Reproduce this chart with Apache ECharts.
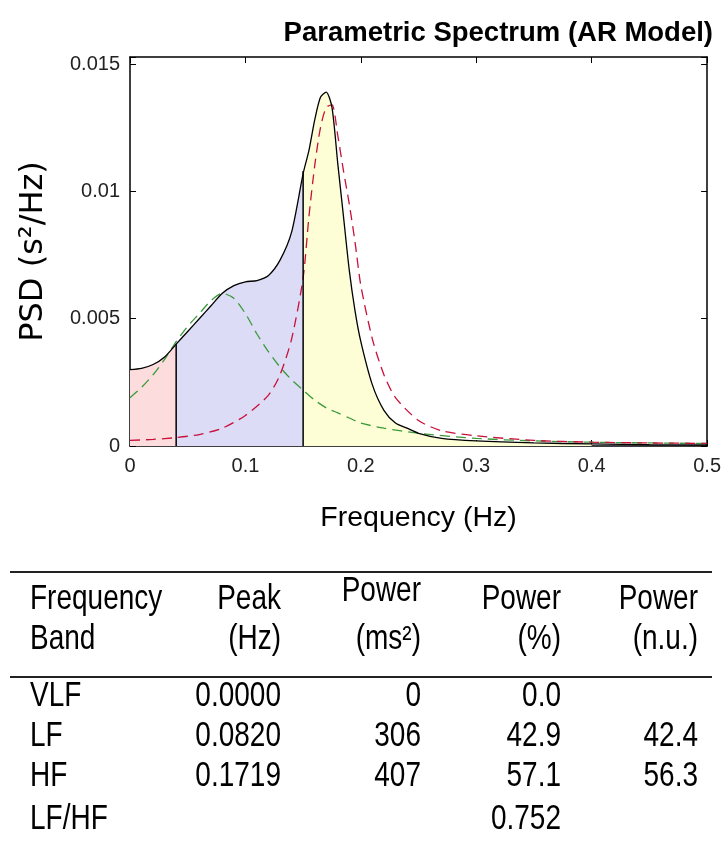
<!DOCTYPE html>
<html>
<head>
<meta charset="utf-8">
<script src="https://cdn.jsdelivr.net/npm/echarts@6/dist/echarts.min.js"></script>
<style>
html,body{margin:0;padding:0;background:#fff;}
#main{width:724px;height:845px;}
</style>
</head>
<body>
<div id="main"></div>
<script>
// ---- data ----
const titleText = 'Parametric Spectrum (AR Model)';
const xTicks = [0, 0.1, 0.2, 0.3, 0.4, 0.5];
const yTicks = [0, 0.005, 0.01, 0.015];

const freqTotal = [0, 0.01, 0.02, 0.03, 0.04, 0.05, 0.06, 0.07, 0.08, 0.09, 0.10, 0.11, 0.12, 0.13, 0.14, 0.15,
  0.155, 0.16, 0.165, 0.17, 0.175, 0.18, 0.185, 0.19, 0.195, 0.20, 0.21, 0.22, 0.23, 0.24, 0.25, 0.27, 0.30, 0.35, 0.40, 0.45, 0.50];
const psdTotal = [0.0030, 0.00305, 0.0032, 0.0035, 0.0040, 0.0045, 0.0050, 0.0055, 0.0060, 0.0063, 0.00645, 0.0065, 0.0067, 0.0073, 0.0084, 0.0107,
  0.0116, 0.0128, 0.0137, 0.0139, 0.0133, 0.0111, 0.0090, 0.0069, 0.0053, 0.0041, 0.0024, 0.0014, 0.0009, 0.0007, 0.0005, 0.0003, 0.0002, 0.00012, 0.00008, 0.00005, 0.00004];

const freqLF = [0, 0.01, 0.02, 0.03, 0.04, 0.05, 0.06, 0.07, 0.08, 0.09, 0.10, 0.11, 0.12, 0.13, 0.14, 0.15, 0.16, 0.17, 0.18, 0.19, 0.20, 0.22, 0.25, 0.30, 0.35, 0.40, 0.45, 0.50];
const psdLF = [0.0019, 0.0023, 0.0028, 0.0034, 0.0041, 0.0047, 0.0052, 0.0057, 0.0060, 0.0058, 0.0052, 0.0044, 0.0037, 0.0031, 0.0026, 0.0022, 0.0018, 0.0015, 0.0013, 0.0011, 0.0009, 0.0007, 0.0005, 0.0003, 0.0002, 0.00015, 0.00012, 0.0001];

const freqHF = [0, 0.02, 0.04, 0.06, 0.08, 0.10, 0.12, 0.13, 0.14, 0.15, 0.155, 0.16, 0.165, 0.17, 0.175, 0.18, 0.185, 0.19, 0.195, 0.20, 0.21, 0.22, 0.23, 0.25, 0.27, 0.30, 0.35, 0.40, 0.45, 0.50];
const psdHF = [0.00022, 0.00026, 0.00033, 0.00045, 0.0007, 0.0012, 0.0020, 0.0028, 0.0042, 0.0066, 0.0090, 0.0110, 0.0125, 0.0133, 0.0134, 0.0122, 0.0108, 0.0095, 0.0080, 0.0063, 0.0042, 0.0028, 0.0019, 0.0010, 0.0006, 0.0004, 0.00022, 0.00015, 0.00012, 0.0001];

const bandNames = ['VLF', 'LF', 'HF'];
const bandEdges = [0, 0.04, 0.15, 0.4];
const hfEdgeTop = 0.0108;

const tableHead1 = ['Frequency', 'Peak', 'Power', 'Power', 'Power'];
const tableHead2 = ['Band', '(Hz)', '(ms²)', '(%)', '(n.u.)'];
const tableRows = [
  ['VLF', '0.0000', '0', '0.0', ''],
  ['LF', '0.0820', '306', '42.9', '42.4'],
  ['HF', '0.1719', '407', '57.1', '56.3'],
  ['LF/HF', '', '', '0.752', '']
];

// ---- build ----
const pairs = (fs, vs) => fs.map((f, i) => [f, vs[i]]);
const totalPairs = pairs(freqTotal, psdTotal);
const bandFill = ['#fcdcdc', '#dcdcf6', '#fefed6'];
const SMOOTH = 0.25;

const series = [];
bandNames.forEach((b, i) => {
  const lo = bandEdges[i], hi = bandEdges[i + 1];
  series.push({
    name: b, type: 'line', xAxisIndex: 0, yAxisIndex: 0,
    data: totalPairs.filter(p => p[0] >= lo - 1e-9 && p[0] <= hi + 1e-9),
    symbol: 'none', smooth: SMOOTH, silent: true,
    lineStyle: { width: 0, opacity: 0 },
    areaStyle: { color: bandFill[i], opacity: 1 },
    z: 1
  });
});
series.push({
  name: 'LF comp', type: 'line', data: pairs(freqLF, psdLF), symbol: 'none', smooth: SMOOTH,
  lineStyle: { color: '#3a9a3a', width: 1.3, type: [10, 6] }, z: 3
});
series.push({
  name: 'HF comp', type: 'line', data: pairs(freqHF, psdHF), symbol: 'none', smooth: SMOOTH,
  lineStyle: { color: '#c8103a', width: 1.3, type: [10, 6] }, z: 3
});
series.push({
  name: 'Total', type: 'line', data: totalPairs, symbol: 'none', smooth: SMOOTH,
  lineStyle: { color: '#000', width: 1.3 }, z: 4
});
const vIdx = freqTotal.indexOf(bandEdges[1]);
series.push({
  name: 'edge1', type: 'line', data: [[bandEdges[1], 0], [bandEdges[1], psdTotal[vIdx]]], symbol: 'none',
  lineStyle: { color: '#000', width: 1.5 }, z: 5
});
series.push({
  name: 'edge2', type: 'line', data: [[bandEdges[2], 0], [bandEdges[2], hfEdgeTop]], symbol: 'none',
  lineStyle: { color: '#000', width: 1.5 }, z: 5
});

const sansFont = '"Liberation Sans", Arial, sans-serif';
const tableFont = '28px "Liberation Sans", Arial, sans-serif';

const graphic = [];
graphic.push({ type: 'line', shape: { x1: 10, y1: 572, x2: 712, y2: 572 }, style: { stroke: '#222', lineWidth: 2 } });
graphic.push({ type: 'line', shape: { x1: 10, y1: 677, x2: 712, y2: 677 }, style: { stroke: '#222', lineWidth: 2 } });
const colX = [30, 281, 421, 561, 698];
const colAlign = ['left', 'right', 'right', 'right', 'right'];
const head1Y = [600, 600, 592, 600, 600];
const head2Y = 640;
const rowY = [697, 737, 777, 820];
const addText = (t, x, y, align) => graphic.push({
  type: 'text', x: x, y: y, scaleY: 1.22,
  style: { text: t, font: tableFont, fill: '#000', textAlign: align, textVerticalAlign: 'middle' }
});
tableHead1.forEach((t, c) => addText(t, colX[c], head1Y[c], colAlign[c]));
tableHead2.forEach((t, c) => addText(t, colX[c], head2Y, colAlign[c]));
tableRows.forEach((row, r) => row.forEach((t, c) => { if (t) addText(t, colX[c], rowY[r], colAlign[c]); }));

const yFmt = v => {
  const k = v / 0.005;
  if (Math.abs(k - Math.round(k)) > 1e-6) return '';
  return String(Math.round(v * 1000) / 1000);
};

const chart = echarts.init(document.getElementById('main'), null, { renderer: 'canvas' });
chart.setOption({
  animation: false,
  backgroundColor: '#fff',
  title: {
    text: titleText, right: 6, top: 14,
    textStyle: { fontFamily: sansFont, fontWeight: 'bold', fontSize: 27.5, color: '#000' }
  },
  grid: { left: 130, right: 15, top: 57, bottom: 399, containLabel: false },
  xAxis: [{
    type: 'value', min: xTicks[0], max: xTicks[xTicks.length - 1], interval: 0.1,
    name: 'Frequency (Hz)', nameLocation: 'middle', nameGap: 58,
    nameTextStyle: { fontFamily: sansFont, fontSize: 28.5, color: '#000' },
    axisLine: { show: true, onZero: false, lineStyle: { color: '#000', width: 1.5 } },
    axisTick: { show: true, inside: true, length: 6, lineStyle: { color: '#000' } },
    axisLabel: { fontFamily: sansFont, fontSize: 20, color: '#222', margin: 10, formatter: v => String(Math.round(v * 10) / 10) },
    splitLine: { show: false }
  }, {
    type: 'value', position: 'top', min: xTicks[0], max: xTicks[xTicks.length - 1], interval: 0.1,
    axisLine: { show: true, onZero: false, lineStyle: { color: '#000', width: 1.5 } },
    axisTick: { show: true, inside: true, length: 6, lineStyle: { color: '#000' } },
    axisLabel: { show: false }, splitLine: { show: false }
  }],
  yAxis: [{
    type: 'value', min: yTicks[0], max: 0.01528, interval: 0.005,
    name: 'PSD (s²/Hz)', nameLocation: 'middle', nameGap: 80, nameRotate: 90,
    nameTextStyle: { fontFamily: '"DejaVu Sans", sans-serif', fontSize: 32, color: '#000' },
    axisLine: { show: true, onZero: false, lineStyle: { color: '#000', width: 1.5 } },
    axisTick: { show: true, inside: true, length: 6, lineStyle: { color: '#000' } },
    axisLabel: { fontFamily: sansFont, fontSize: 20, color: '#222', margin: 10, formatter: yFmt },
    splitLine: { show: false }
  }, {
    type: 'value', position: 'right', min: yTicks[0], max: 0.01528, interval: 0.005,
    axisLine: { show: true, onZero: false, lineStyle: { color: '#000', width: 1.5 } },
    axisTick: { show: true, inside: true, length: 6, lineStyle: { color: '#000' } },
    axisLabel: { show: false }, splitLine: { show: false }
  }],
  series: series,
  graphic: graphic
});
</script>
</body>
</html>
